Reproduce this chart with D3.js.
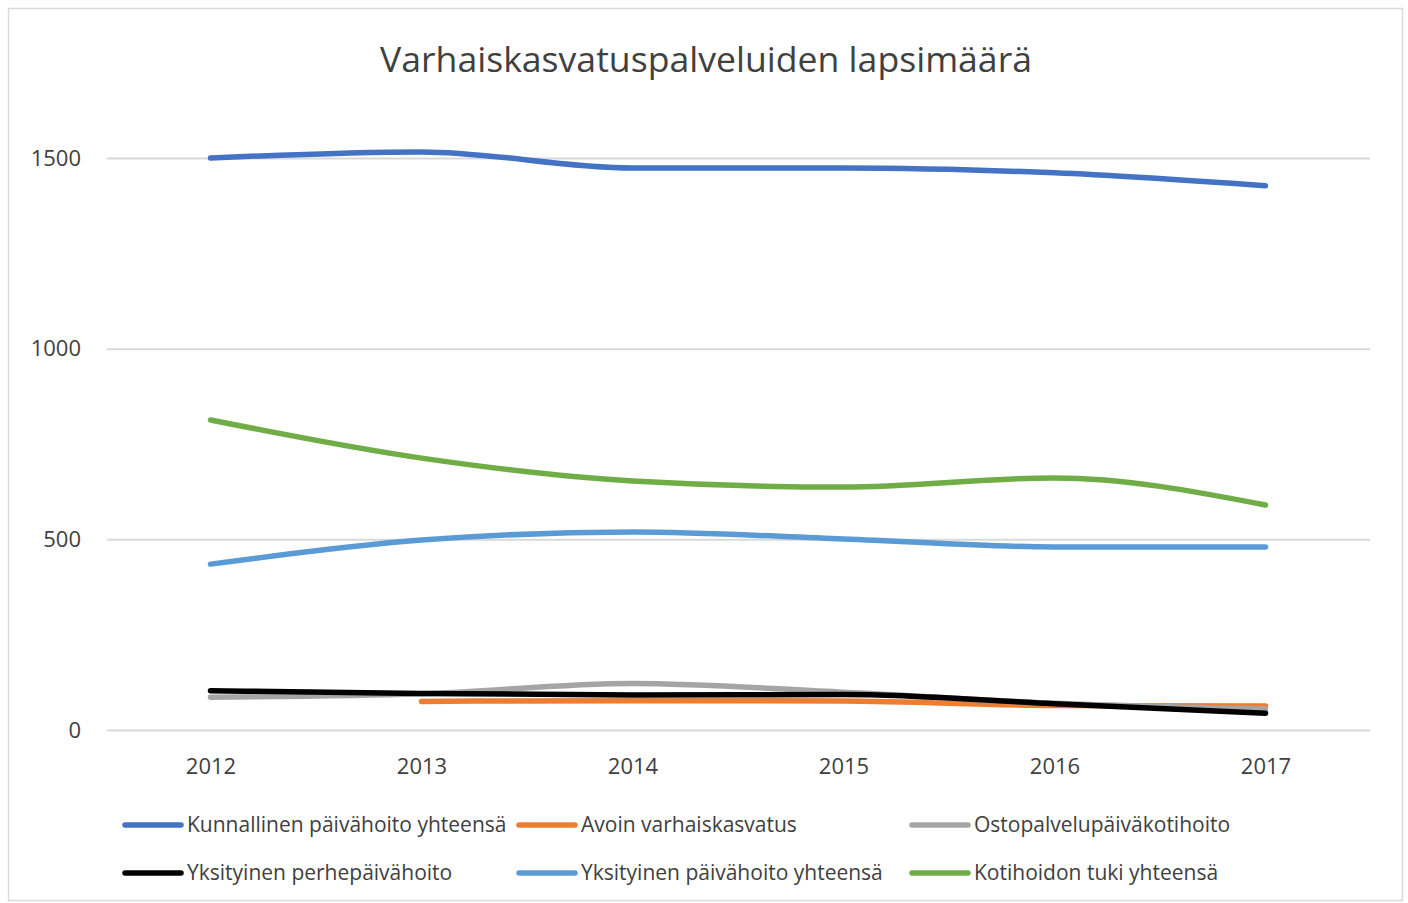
<!DOCTYPE html>
<html>
<head>
<meta charset="utf-8">
<script src="https://cdn.jsdelivr.net/npm/d3@7"></script>
<style>
  body { margin: 0; background: #fff; }
  text { font-family: "Open Sans", "DejaVu Sans", sans-serif; }
</style>
</head>
<body>
<div id="chart"></div>
<script>
// Données
const years = ["2012", "2013", "2014", "2015", "2016", "2017"];
const seriesNames = [
  "Kunnallinen päivähoito yhteensä",
  "Avoin varhaiskasvatus",
  "Ostopalvelupäiväkotihoito",
  "Yksityinen perhepäivähoito",
  "Yksityinen päivähoito yhteensä",
  "Kotihoidon tuki yhteensä"
];
const kunnallinen = [1500, 1516, 1474, 1474, 1461, 1427];
const avoin = [null, 75, 77, 76, 64, 63];
const ostopalvelu = [86, 95, 122, 99, 70, 55];
const perhepaivahoito = [103, 96, 92, 93, 69, 44];
const yksityinen = [435, 498, 519, 501, 480, 480];
const kotihoidon = [813, 713, 653, 637, 661, 590];
const yTicks = [0, 500, 1000, 1500];
const colors = ["#4472C4", "#ED7D31", "#A5A5A5", "#000000", "#5B9BD5", "#70AD47"];

const allValues = [kunnallinen, avoin, ostopalvelu, perhepaivahoito, yksityinen, kotihoidon];
const series = seriesNames.map((name, i) => ({
  name: name,
  color: colors[i],
  values: allValues[i].map((v, j) => ({ year: years[j], value: v }))
}));

//---------------------------------------------------------------------------------------

const width = 1408;
const height = 903;

const svg = d3.select("#chart")
  .append("svg")
  .attr("width", width)
  .attr("height", height);

// cadre du graphique
svg.append("rect")
  .attr("x", 8.5)
  .attr("y", 8.5)
  .attr("width", 1394)
  .attr("height", 892)
  .attr("fill", "#fff")
  .attr("stroke", "#d9d9d9")
  .attr("stroke-width", 1.5);

// titre
svg.append("text")
  .attr("x", 706)
  .attr("y", 72)
  .attr("text-anchor", "middle")
  .attr("font-size", 34)
  .attr("fill", "#404040")
  .attr("textLength", 652)
  .attr("lengthAdjust", "spacingAndGlyphs")
  .text("Varhaiskasvatuspalveluiden lapsimäärä");

//---------------------------------------------------------------------------------------

// échelles
const scaleX = d3.scalePoint()
  .domain(years)
  .range([105, 1371])
  .padding(0.5);

const scaleY = d3.scaleLinear()
  .domain([0, 1500])
  .range([730, 158]);

// axe Y + grille
const yAxis = g => g
  .attr("transform", "translate(107,0)")
  .call(d3.axisLeft(scaleY).tickValues(yTicks).tickFormat(d3.format("d")).tickSize(-1263).tickPadding(26))
  .call(g => g.select(".domain").remove())
  .call(g => g.selectAll(".tick line").attr("stroke", "#d9d9d9").attr("stroke-width", 2))
  .call(g => g.selectAll(".tick text")
    .attr("font-size", 22)
    .attr("fill", "#404040")
    .attr("font-family", "'Open Sans', sans-serif"));

svg.append("g").call(yAxis);

// axe X
const xAxis = g => g
  .attr("transform", "translate(0,730)")
  .call(d3.axisBottom(scaleX).tickSize(0).tickPadding(28))
  .call(g => g.select(".domain").remove())
  .call(g => g.selectAll(".tick text")
    .attr("font-size", 22)
    .attr("fill", "#404040")
    .attr("font-family", "'Open Sans', sans-serif"));

svg.append("g").call(xAxis);

//---------------------------------------------------------------------------------------

// lignes
const line = d3.line()
  .defined(d => d.value !== null)
  .x(d => scaleX(d.year))
  .y(d => scaleY(d.value))
  .curve(d3.curveMonotoneX);

// ordre de dessin : noir au-dessus des autres séries basses
const drawOrder = [5, 4, 0, 1, 2, 3];
svg.append("g")
  .selectAll("path")
  .data(drawOrder.map(i => series[i]))
  .join("path")
  .attr("d", d => line(d.values))
  .attr("fill", "none")
  .attr("stroke", d => d.color)
  .attr("stroke-width", 5.5)
  .attr("stroke-linecap", "round")
  .attr("stroke-linejoin", "round");

//---------------------------------------------------------------------------------------

// légende
const legendX = [123, 517, 910];
const legendY = [825, 873];

const legend = svg.append("g")
  .selectAll("g")
  .data(series)
  .join("g")
  .attr("transform", (d, i) => `translate(${legendX[i % 3]},${legendY[Math.floor(i / 3)]})`);

legend.append("line")
  .attr("x1", 2)
  .attr("x2", 58)
  .attr("y1", 0)
  .attr("y2", 0)
  .attr("stroke", d => d.color)
  .attr("stroke-width", 5.5)
  .attr("stroke-linecap", "round");

legend.append("text")
  .attr("x", 64)
  .attr("y", 0)
  .attr("dy", "0.35em")
  .attr("font-size", 21)
  .attr("fill", "#404040")
  .text(d => d.name);
</script>
</body>
</html>
